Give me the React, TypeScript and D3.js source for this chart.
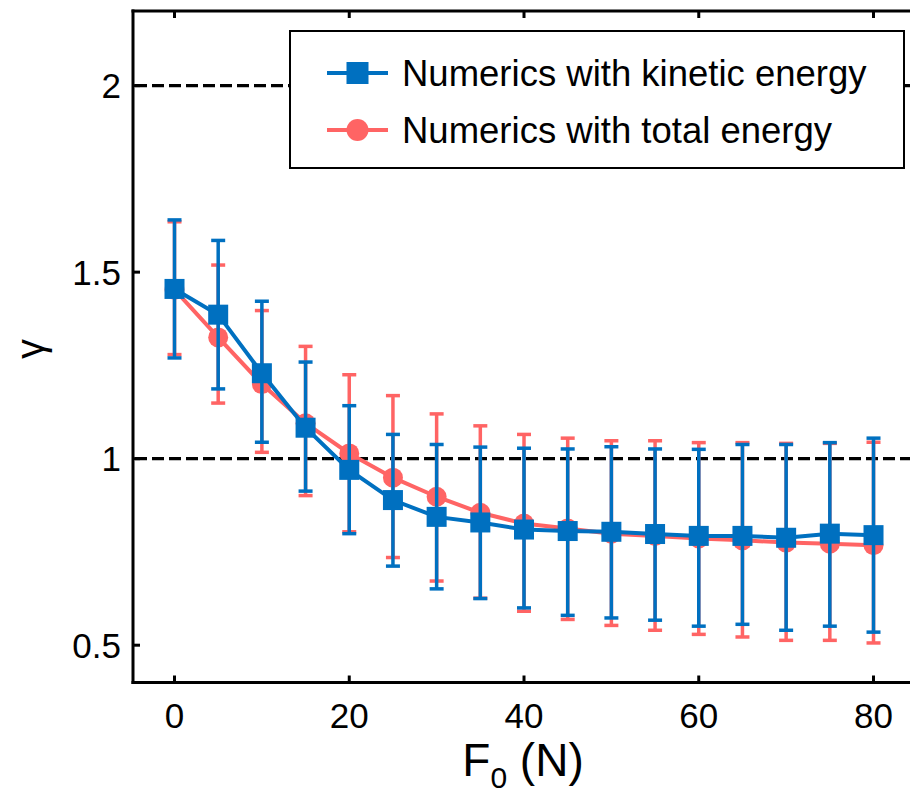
import React from "react";
import * as d3 from "d3";

const forces = [0, 5, 10, 15, 20, 25, 30, 35, 40, 45, 50, 55, 60, 65, 70, 75, 80];
const kineticMean = [1.455, 1.386, 1.229, 1.083, 0.970, 0.889, 0.844, 0.829, 0.810, 0.806, 0.804, 0.798, 0.793, 0.793, 0.788, 0.799, 0.795];
const kineticUpper = [1.640, 1.585, 1.422, 1.259, 1.142, 1.065, 1.038, 1.031, 1.028, 1.026, 1.032, 1.026, 1.025, 1.038, 1.038, 1.043, 1.055];
const kineticLower = [1.270, 1.187, 1.044, 0.913, 0.799, 0.712, 0.651, 0.625, 0.600, 0.580, 0.573, 0.567, 0.551, 0.556, 0.540, 0.551, 0.535];
const totalMean = [1.453, 1.325, 1.200, 1.095, 1.014, 0.949, 0.898, 0.855, 0.826, 0.813, 0.799, 0.793, 0.786, 0.781, 0.775, 0.772, 0.768];
const totalUpper = [1.635, 1.519, 1.397, 1.301, 1.225, 1.169, 1.120, 1.088, 1.065, 1.055, 1.048, 1.048, 1.043, 1.043, 1.041, 1.041, 1.044];
const totalLower = [1.279, 1.149, 1.017, 0.901, 0.804, 0.735, 0.672, 0.626, 0.591, 0.569, 0.553, 0.540, 0.529, 0.522, 0.513, 0.513, 0.506];
const xTicks = [0, 20, 40, 60, 80];
const yTicks = [0.5, 1, 1.5, 2];
const yTickLabels = ["0.5", "1", "1.5", "2"];
const refLines = [1, 2];
const seriesNames = ["Numerics with kinetic energy", "Numerics with total energy"];

const BLUE = "#0070C0";
const RED = "#FF6464";
const FONT = "'Liberation Sans', Arial, Helvetica, sans-serif";

export default function App() {
  const W = 910, H = 799;
  const x = d3.scaleLinear().domain([-4.75, 85]).range([133, 917.2]);
  const y = d3.scaleLinear().domain([0.4, 2.2]).range([682.5, 11]);
  const [x0, x1] = x.range();
  const [yb, yt] = y.range();

  const line = d3.line<number>().x((_, i) => x(forces[i])).y((d) => y(d));

  const series = [
    { name: seriesNames[1], mean: totalMean, up: totalUpper, lo: totalLower, color: RED, shape: "circle" },
    { name: seriesNames[0], mean: kineticMean, up: kineticUpper, lo: kineticLower, color: BLUE, shape: "square" },
  ];

  const capW = 7;
  const msz = 20;

  return (
    <svg width={W} height={H} style={{ position: "absolute", left: 0, top: 0, background: "#fff" }} fontFamily={FONT}>
      <rect x={0} y={0} width={W} height={H} fill="#fff" />
      {refLines.map((v) => (
        <line key={v} x1={x0 + 2} x2={x1} y1={y(v)} y2={y(v)} stroke="#000" strokeWidth={3.2} strokeDasharray="12,5" />
      ))}
      {series.map((s) => (
        <g key={s.name}>
          {forces.map((f, i) => (
            <g key={f} stroke={s.color} strokeWidth={3.5}>
              <line x1={x(f)} x2={x(f)} y1={y(s.up[i])} y2={y(s.lo[i])} />
              <line x1={x(f) - capW} x2={x(f) + capW} y1={y(s.up[i])} y2={y(s.up[i])} />
              <line x1={x(f) - capW} x2={x(f) + capW} y1={y(s.lo[i])} y2={y(s.lo[i])} />
            </g>
          ))}
          <path d={line(s.mean) || ""} fill="none" stroke={s.color} strokeWidth={4} />
          {forces.map((f, i) =>
            s.shape === "circle" ? (
              <circle key={f} cx={x(f)} cy={y(s.mean[i])} r={msz / 2} fill={s.color} />
            ) : (
              <rect key={f} x={x(f) - msz / 2} y={y(s.mean[i]) - msz / 2} width={msz} height={msz} fill={s.color} />
            )
          )}
        </g>
      ))}
      <line x1={x0} x2={x0} y1={yt - 1.5} y2={yb + 1.5} stroke="#000" strokeWidth={3} />
      <line x1={x0 - 1.5} x2={x1} y1={yb} y2={yb} stroke="#000" strokeWidth={3} />
      <line x1={x0 - 1.5} x2={x1} y1={yt} y2={yt} stroke="#000" strokeWidth={3} />
      <line x1={x1} x2={x1} y1={yt} y2={yb} stroke="#000" strokeWidth={3} />
      {xTicks.map((t) => (
        <g key={t}>
          <line x1={x(t)} x2={x(t)} y1={yb} y2={yb - 7} stroke="#000" strokeWidth={3} />
          <line x1={x(t)} x2={x(t)} y1={yt} y2={yt + 7} stroke="#000" strokeWidth={3} />
          <text x={x(t)} y={728} fontSize={35} textAnchor="middle" fill="#000">{t}</text>
        </g>
      ))}
      {yTicks.map((t, i) => (
        <g key={t}>
          <line x1={x0} x2={x0 + 7} y1={y(t)} y2={y(t)} stroke="#000" strokeWidth={3} />
          <text x={121} y={y(t) + 12.5} fontSize={35} textAnchor="end" fill="#000">{yTickLabels[i]}</text>
        </g>
      ))}
      <text x={523} y={776} fontSize={46} textAnchor="middle" fill="#000">
        F<tspan fontSize={30} dy={12}>0</tspan><tspan dy={-12}> (N)</tspan>
      </text>
      <text transform="translate(44,349) rotate(-90)" fontSize={40} textAnchor="middle" fill="#000">γ</text>
      <rect x={290} y={31} width={614} height={137} fill="#fff" stroke="#000" strokeWidth={2} />
      {[series[1], series[0]].map((s, i) => {
        const ly = 73 + i * 57;
        return (
          <g key={s.name}>
            <line x1={327} x2={388} y1={ly} y2={ly} stroke={s.color} strokeWidth={4} />
            {s.shape === "circle" ? (
              <circle cx={357.5} cy={ly} r={11} fill={s.color} />
            ) : (
              <rect x={357.5 - 11} y={ly - 11} width={22} height={22} fill={s.color} />
            )}
            <text x={402} y={ly + 13} fontSize={36.5} fill="#000">{s.name}</text>
          </g>
        );
      })}
    </svg>
  );
}
